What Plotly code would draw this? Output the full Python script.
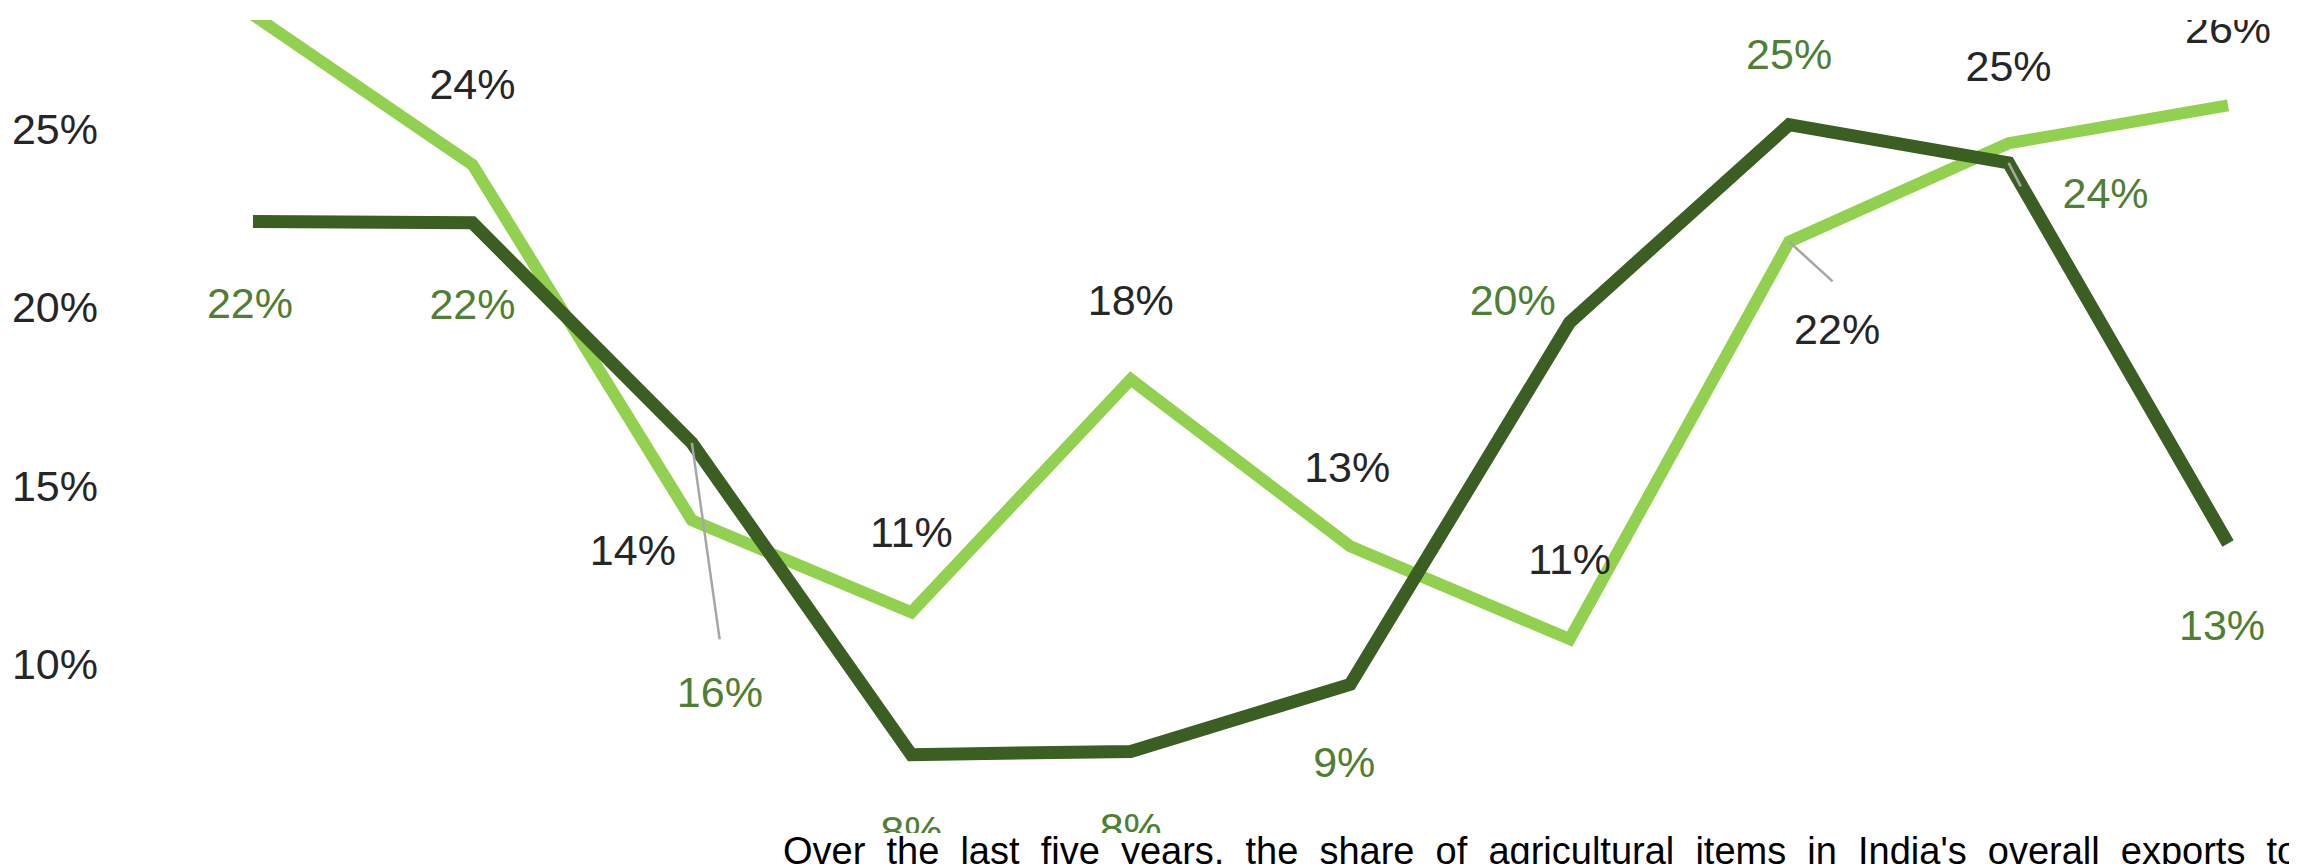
import numpy as np
import plotly.graph_objects as go

# ---------------- data ----------------
categories = ["P1", "P2", "P3", "P4", "P5", "P6", "P7", "P8", "P9", "P10"]
light_series = [0.282, 0.240, 0.1403, 0.1145, 0.1798, 0.133, 0.107, 0.2184, 0.246, 0.2566]
dark_series = [0.2241, 0.2237, 0.162, 0.0746, 0.0755, 0.0943, 0.1958, 0.2512, 0.2405, 0.1338]
light_labels = ["28%", "24%", "14%", "11%", "18%", "13%", "11%", "22%", "25%", "26%"]
dark_labels = ["22%", "22%", "16%", "8%", "8%", "9%", "20%", "25%", "24%", "13%"]
y_ticks = [0.05, 0.10, 0.15, 0.20, 0.25]
paragraph = "Over the last five years, the share of agricultural items in India's overall exports to"

# ---------------- layout geometry (pixels) ----------------
# the page body has an 8px margin, so the figure is sized to fit the window exactly
PAGE_OFF = 8
W, H = 2297 - PAGE_OFF, 864 - PAGE_OFF
L_s, T_s = 111, 20              # plot-area left/top in window pixels
L, T = L_s - PAGE_OFF, T_s - PAGE_OFF
plot_w, plot_h = W - L, H - T
x_range = [-0.6471, 9.3144]
y_range = [0.04394, 0.28056]
px_per_x = plot_w / (x_range[1] - x_range[0])
px_per_y = plot_h / (y_range[1] - y_range[0])


def paper_x(xs):
    return (xs - L_s) / plot_w


def paper_y(ys):
    return (864 - ys) / plot_h


# label offsets in pixels (dx right, dy up)
light_off = [(0, 75), (0, 76), (-59, -34), (0, 76), (0, 75), (-3, 75), (0, 76), (48, -92), (0, 73), (0, 73)]
dark_off = [(-3, -86), (0, -85), (28, -253), (0, -81), (0, -81), (-6, -82), (-57, 18), (0, 66), (97, -34), (-6, -86)]

xpos = np.arange(len(categories))

LIGHT = "#92D050"
DARK = "#3B5E22"
GREEN_TXT = "#4F7F33"
BLACK_TXT = "#262626"
FONT = "Liberation Sans, Arial, sans-serif"
LABEL_SIZE = 43

fig = go.Figure()
fig.add_trace(go.Scatter(x=xpos, y=light_series, mode="lines",
                         line=dict(color=LIGHT, width=12), customdata=categories,
                         hoverinfo="skip", showlegend=False))
fig.add_trace(go.Scatter(x=xpos, y=dark_series, mode="lines",
                         line=dict(color=DARK, width=13), customdata=categories,
                         hoverinfo="skip", showlegend=False))


def label_trace(vals, labels, offs, color):
    lx = [x + dx / px_per_x for x, (dx, dy) in zip(xpos, offs)]
    ly = [v + dy / px_per_y for v, (dx, dy) in zip(vals, offs)]
    return go.Scatter(x=lx, y=ly, mode="text", text=labels, textposition="middle center",
                      textfont=dict(family=FONT, size=LABEL_SIZE, color=color),
                      cliponaxis=True, hoverinfo="skip", showlegend=False)


fig.add_trace(label_trace(light_series, light_labels, light_off, BLACK_TXT))
fig.add_trace(label_trace(dark_series, dark_labels, dark_off, GREEN_TXT))

# leader lines (gray) from data points toward their labels
leaders = [
    (2, dark_series[2], 28, 198),
    (7, light_series[7], 45, 41),
    (8, dark_series[8], 13, 25),
]
annotations = []
for x, y, ax, ay in leaders:
    annotations.append(dict(x=x, y=y, xref="x", yref="y", text="", showarrow=True,
                            ax=ax, ay=ay, arrowhead=0, arrowwidth=2.5,
                            arrowcolor="#A6A6A6", standoff=0, startstandoff=0))

# paragraph text at bottom (justified look via wider word gaps)
para_text = paragraph.replace(" ", "\u00a0 ")
annotations.append(dict(x=paper_x(781), y=paper_y(828), xref="paper", yref="paper",
                        xanchor="left", yanchor="top", showarrow=False, align="left",
                        text=para_text, font=dict(family=FONT, size=38, color="#000000")))

fig.update_layout(
    width=W, height=H,
    margin=dict(l=L, r=0, t=T, b=0, pad=0, autoexpand=False),
    paper_bgcolor="white", plot_bgcolor="white",
    xaxis=dict(range=x_range, visible=False, fixedrange=True),
    yaxis=dict(range=y_range, tickvals=y_ticks, tickformat=".0%", showgrid=False,
               zeroline=False, showline=False, ticks="", ticklabelstandoff=12,
               tickfont=dict(family=FONT, size=LABEL_SIZE, color=BLACK_TXT), automargin=False),
    annotations=annotations,
    shapes=[dict(type="rect", xref="paper", yref="paper", x0=paper_x(760), x1=1.01,
                 y0=-0.02, y1=paper_y(833), fillcolor="white", line=dict(width=0),
                 layer="above")],
    showlegend=False,
)

fig.write_html("out.html")
